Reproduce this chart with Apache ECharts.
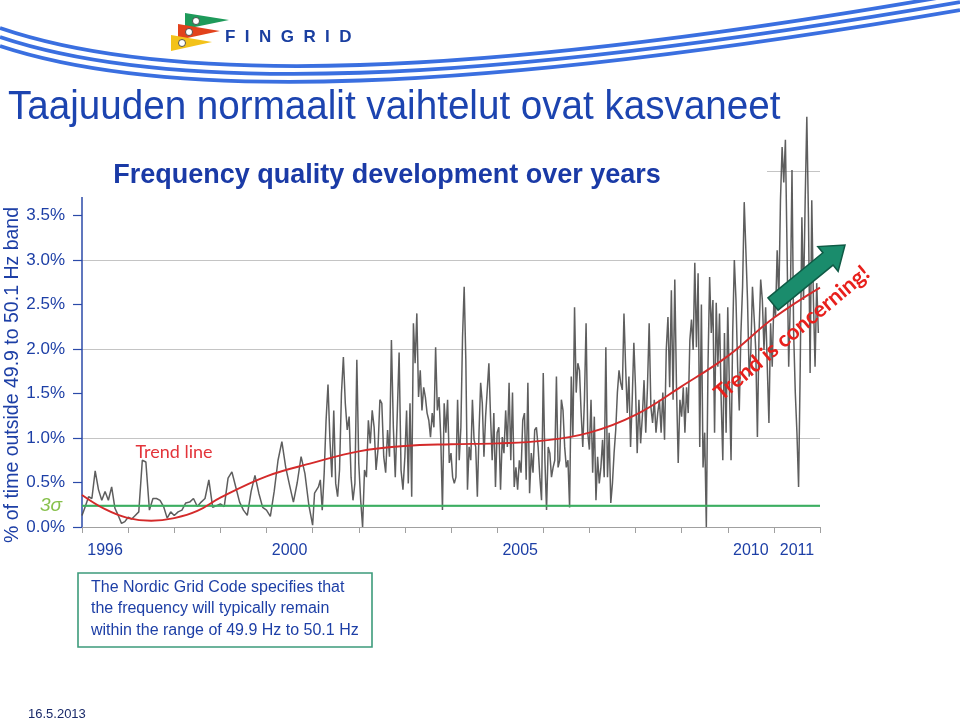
<!DOCTYPE html>
<html><head><meta charset="utf-8">
<script src="https://cdn.jsdelivr.net/npm/echarts@6/dist/echarts.min.js"></script>
<style>html,body{margin:0;padding:0;background:#fff}#c{width:960px;height:721px}</style>
</head><body><div id="c"></div>
<script>
// ---- data: % of time outside 49.9–50.1 Hz, samples spread evenly within each year ----
const v1996 = [0.13,0.23,0.34,0.32,0.63,0.42,0.30,0.40,0.30,0.45,0.21,0.13,0.04,0.06];
const v1997 = [0.11,0.09,0.13,0.17,0.75,0.73,0.19,0.32,0.32,0.30,0.23,0.10,0.17];
const v1998 = [0.13,0.17,0.19,0.27,0.28,0.32,0.23,0.28,0.32,0.53,0.22,0.24];
const v1999 = [0.26,0.23,0.55,0.62,0.45,0.28,0.19,0.13,0.40,0.58,0.38,0.22];
const v2000 = [0.19,0.12,0.40,0.75,0.96,0.67,0.47,0.28,0.50,0.79,0.60,0.25];
const v2001 = [0.02,0.38,0.40,0.45,0.53,0.19,0.60,1.20,1.60,0.98,0.56,1.31,0.49,0.34,0.64,1.50,1.91,1.39,1.09,1.24,0.56,0.30,0.49,1.88];
const v2002 = [0.72,0.30,0.00,0.64,0.56,1.20,0.94,1.31,1.12,0.64,0.87,1.43,1.39,0.79,0.61,1.09,0.79,2.10,1.12,0.56,1.24,1.96,0.64,0.42];
const v2003 = [0.79,1.31,0.49,1.39,0.34,2.29,1.84,2.40,1.46,1.76,1.31,1.57,1.46,1.28,1.20,1.01,1.28,1.12,2.02,1.31,1.46,1.01,0.19,1.39,1.06,1.43,0.72];
const v2004 = [0.83,0.56,0.49,0.56,1.43,0.75,1.12,2.13,2.70,1.88,0.42,0.90,0.75,1.43,0.98,0.90,0.34,1.06,1.62,1.39,0.79,1.24,1.54,1.84,1.24,0.75,1.28,0.45];
const v2005 = [1.06,1.12,0.42,1.01,0.83,1.31,0.90,1.62,0.75,1.51,0.45,0.67,0.42,0.75,0.61,1.20,1.28,0.53,1.62,0.38,0.83,0.61,1.09,1.12,0.90,0.56,0.30];
const v2006 = [1.73,0.75,0.19,0.90,0.83,0.56,0.67,0.75,1.69,0.67,0.75,1.43,1.31,0.90,0.67,0.75,0.22,1.69,1.01,2.47,1.51,1.84,1.76,1.28,0.90,1.43,2.29,1.06];
const v2007 = [0.87,1.43,0.61,1.24,0.30,0.79,0.49,0.67,0.98,0.56,2.02,0.56,1.06,0.27,0.49,0.83,1.09,1.51,1.76,1.62,1.54,2.40,1.80,1.28,1.69,0.90,1.43,2.07];
const v2008 = [1.57,0.83,1.43,0.94,1.24,1.65,1.06,1.57,2.29,1.35,1.17,1.43,1.06,1.28,1.43,1.06,1.51,0.98,1.99,2.36,1.57,2.66,1.43,2.78,1.57,0.72,1.43];
const v2009 = [1.24,1.57,1.06,1.57,1.28,2.10,2.33,1.99,2.97,2.02,2.85,0.90,2.50,0.67,1.06,0.00,1.80,2.81,2.18,2.55,1.06,2.52,1.80,2.40,1.43,0.75,2.18,1.06];
const v2010 = [2.47,1.57,0.75,2.18,3.00,2.55,1.80,1.31,2.18,2.70,3.65,3.11,2.55,1.69,1.96,2.70,2.36,1.99,1.01,2.18,2.78,2.55,1.99,2.47,1.80,1.17,2.29,1.80];
const v2011 = [2.55,2.36,3.11,2.55,3.67,4.27,3.87,4.35,3.11,1.80,2.55,4.01,2.18,1.51,1.06,0.45,1.80,3.48,2.55,3.67,4.61,3.48,1.73,3.67,2.55,1.80,2.74,2.18];

const trendYears  = [1996,1996.5,1997,1997.5,1998,1998.5,1999,2000,2001,2002,2003,2004,2005,2006,2007,2008,2009,2010,2011,2012];
const trendValues = [0.36,0.20,0.10,0.07,0.10,0.18,0.33,0.57,0.72,0.85,0.91,0.93,0.94,0.97,1.06,1.26,1.58,1.92,2.35,2.69];

const sigma3 = 0.24;
const xTickLabels = ['1996','2000','2005','2010','2011'];
const yMin = 0, yMax = 5, yLabelMax = 3.5;

// ---- build series data ----
const years = [v1996,v1997,v1998,v1999,v2000,v2001,v2002,v2003,v2004,v2005,v2006,v2007,v2008,v2009,v2010,v2011];
const series1 = [];
years.forEach((arr, k) => {
  const y0 = 1996 + k;
  arr.forEach((v, i) => series1.push([y0 + i / arr.length, v]));
});
const trendData = trendYears.map((y, i) => [y, trendValues[i]]);
const xLabelValues = xTickLabels.map(s => Number(s) + 0.5);

const BLUE = '#1d3fa6';
const chart = echarts.init(document.getElementById('c'), null, {renderer: 'canvas'});

// arrow geometry (decoration)
function arrowPoints(tx, ty, hx, hy, sw, hw, hl) {
  const dx = hx - tx, dy = hy - ty, L = Math.hypot(dx, dy);
  const ux = dx / L, uy = dy / L, nx = -uy, ny = ux;
  const bx = hx - ux * hl, by = hy - uy * hl;
  return [
    [tx + nx * sw, ty + ny * sw], [bx + nx * sw, by + ny * sw], [bx + nx * hw, by + ny * hw],
    [hx, hy],
    [bx - nx * hw, by - ny * hw], [bx - nx * sw, by - ny * sw], [tx - nx * sw, ty - ny * sw]
  ];
}

const swooshes = [0, 1, 2].map(k => ({
  type: 'bezierCurve', z: 11, silent: true,
  shape: {x1: 0, y1: 28 + k * 9, cpx1: 170, cpy1: 86 + k * 8, cpx2: 470, cpy2: 80 + k * 7, x2: 960, y2: -6 + k * 8},
  style: {stroke: '#3a6fe0', lineWidth: 3.8, fill: null}
}));

function txt(o) {
  return Object.assign({type: 'text', z: 12, silent: true}, o);
}

const option = {
  animation: false,
  backgroundColor: '#fff',
  grid: {left: 82, right: 140, top: 82, bottom: 194, containLabel: false},
  xAxis: {
    type: 'value', min: 1996, max: 2012, interval: 1,
    axisLine: {show: true, lineStyle: {color: '#a0a0a0', width: 1.2}},
    axisTick: {show: true, length: 6, lineStyle: {color: '#a0a0a0'}},
    splitLine: {show: false},
    axisLabel: {
      customValues: xLabelValues,
      margin: 16, color: BLUE, fontSize: 16, fontFamily: 'Liberation Sans',
      formatter: v => {
        let best = 0;
        xLabelValues.forEach((x, i) => { if (Math.abs(x - v) < Math.abs(xLabelValues[best] - v)) best = i; });
        return xTickLabels[best];
      }
    }
  },
  yAxis: [{
    type: 'value', min: yMin, max: yMax, interval: 0.5,
    axisLine: {show: true, lineStyle: {color: '#2b4aa8', width: 1.5}},
    axisTick: {show: true, length: 9, lineStyle: {color: '#2b4aa8', width: 1.2}},
    splitLine: {show: false},
    axisLabel: {
      margin: 17, color: BLUE, fontSize: 17, fontFamily: 'Liberation Sans',
      formatter: v => (v <= yLabelMax + 1e-9 ? v.toFixed(1) + '%' : '')
    }
  }, {
    type: 'value', min: yMin, max: yMax, interval: 1, position: 'left',
    axisLine: {show: false}, axisTick: {show: false}, axisLabel: {show: false},
    splitLine: {show: true, showMaxLine: false, showMinLine: false, lineStyle: {color: '#c4c4c4', width: 1.2}}
  }],
  series: [
    {
      type: 'line', name: 'share', data: series1, yAxisIndex: 0,
      showSymbol: false, symbol: 'none', z: 3,
      lineStyle: {color: '#4d4d4d', width: 1.5, opacity: 0.9}
    },
    {
      type: 'line', name: 'sigma', yAxisIndex: 0, z: 4,
      showSymbol: false, symbol: 'none',
      data: [[1996, sigma3], [2012, sigma3]],
      lineStyle: {color: '#3cae62', width: 1.6},
      markLine: {
        silent: true, symbol: 'none', animation: false,
        lineStyle: {color: '#3cae62', width: 1.6, type: 'solid'},
        label: {show: true, position: 'start', distance: 20, formatter: '3σ',
          color: '#86c04a', fontSize: 19, fontStyle: 'italic', fontFamily: 'Liberation Sans'},
        data: [{yAxis: sigma3}]
      }
    },
    {
      type: 'line', name: 'trend', data: trendData, yAxisIndex: 0,
      smooth: 0.4, showSymbol: false, symbol: 'none', z: 5,
      lineStyle: {color: '#d42a2a', width: 1.9}
    }
  ],
  graphic: {elements: [
    {type: 'rect', z: 10, silent: true, shape: {x: 0, y: 0, width: 767, height: 197}, style: {fill: '#fff'}},
    ...swooshes,
    {type: 'polygon', z: 12, silent: true, shape: {points: [[185,13],[229,20],[185,29]]}, style: {fill: '#1e9a5a'}},
    {type: 'polygon', z: 12, silent: true, shape: {points: [[178,24],[220,31],[178,40]]}, style: {fill: '#e2421c'}},
    {type: 'polygon', z: 12, silent: true, shape: {points: [[171,35],[212,42],[171,51]]}, style: {fill: '#f3c21a'}},
    {type: 'circle', z: 13, silent: true, shape: {cx: 196, cy: 21, r: 3.5}, style: {fill: '#fff', stroke: '#333', lineWidth: 0.8}},
    {type: 'circle', z: 13, silent: true, shape: {cx: 189, cy: 32, r: 3.5}, style: {fill: '#fff', stroke: '#333', lineWidth: 0.8}},
    {type: 'circle', z: 13, silent: true, shape: {cx: 182, cy: 43, r: 3.5}, style: {fill: '#fff', stroke: '#333', lineWidth: 0.8}},
    txt({x: 225, y: 37, style: {text: 'F  I  N  G  R  I  D', fill: '#1a3fa0', font: 'bold 17px "Liberation Sans"',
      textAlign: 'left', textVerticalAlign: 'middle', align: 'left', verticalAlign: 'middle'}}),
    txt({x: 8, y: 108, scaleX: 0.965, style: {text: 'Taajuuden normaalit vaihtelut ovat kasvaneet', fill: '#1c44b0',
      font: '40px "Liberation Sans"', textAlign: 'left', textVerticalAlign: 'middle', align: 'left', verticalAlign: 'middle'}}),
    txt({x: 387, y: 176, style: {text: 'Frequency quality development over years', fill: '#1a3aa6',
      font: 'bold 27px "Liberation Sans"', textAlign: 'center', textVerticalAlign: 'middle', align: 'center', verticalAlign: 'middle'}}),
    txt({x: 13, y: 375, rotation: Math.PI / 2, style: {text: '% of time outside 49.9 to 50.1 Hz band', fill: BLUE,
      font: '19.5px "Liberation Sans"', textAlign: 'center', textVerticalAlign: 'middle', align: 'center', verticalAlign: 'middle'}}),
    txt({x: 174, y: 452, style: {text: 'Trend line', fill: '#e3343a',
      font: '18px Lato', textAlign: 'center', textVerticalAlign: 'middle', align: 'center', verticalAlign: 'middle'}}),
    txt({x: 792, y: 333, rotation: 0.70, style: {text: 'Trend is concerning!', fill: '#e8201c',
      font: 'bold 22px Lato', textAlign: 'center', textVerticalAlign: 'middle', align: 'center', verticalAlign: 'middle'}}),
    {type: 'polygon', z: 12, silent: true, shape: {points: arrowPoints(773, 304, 845, 245, 8, 16, 22)},
      style: {fill: '#1a8c6c', stroke: '#0f5a45', lineWidth: 1.5}},
    {type: 'rect', z: 12, silent: true, shape: {x: 78, y: 573, width: 294, height: 74},
      style: {fill: '#fff', stroke: '#3d9b7b', lineWidth: 1.6}},
    txt({x: 91, y: 588, style: {text: 'The Nordic Grid Code specifies that', fill: BLUE,
      font: '16px "Liberation Sans"', textAlign: 'left', textVerticalAlign: 'middle', align: 'left', verticalAlign: 'middle'}}),
    txt({x: 91, y: 609, style: {text: 'the frequency will typically remain', fill: BLUE,
      font: '16px "Liberation Sans"', textAlign: 'left', textVerticalAlign: 'middle', align: 'left', verticalAlign: 'middle'}}),
    txt({x: 91, y: 631, style: {text: 'within the range of 49.9 Hz to 50.1 Hz', fill: BLUE,
      font: '16px "Liberation Sans"', textAlign: 'left', textVerticalAlign: 'middle', align: 'left', verticalAlign: 'middle'}}),
    txt({x: 28, y: 714, style: {text: '16.5.2013', fill: '#1a2a6a',
      font: '13px "Liberation Sans"', textAlign: 'left', textVerticalAlign: 'middle', align: 'left', verticalAlign: 'middle'}})
  ]}
};
chart.setOption(option);
</script>
</body></html>
